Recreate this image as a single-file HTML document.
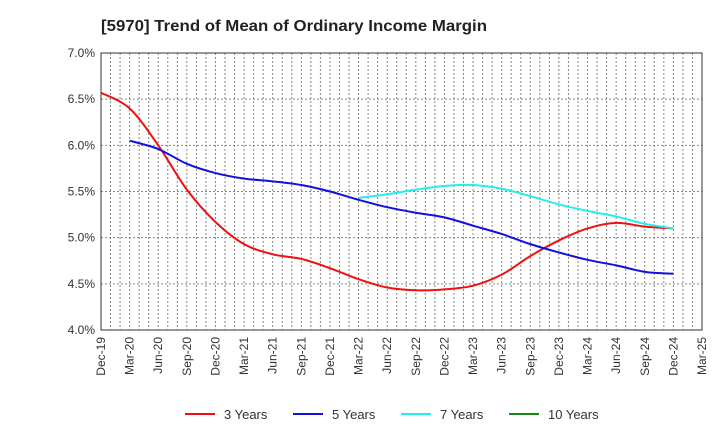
<!DOCTYPE html>
<html><head><meta charset="utf-8"><style>
body{margin:0;background:#fff;font-family:"Liberation Sans",sans-serif;}
</style></head><body>
<svg id="c" width="720" height="440" xmlns="http://www.w3.org/2000/svg" font-family="Liberation Sans, sans-serif">
<text x="101" y="31" text-anchor="start" font-size="16" font-weight="bold" textLength="386" lengthAdjust="spacingAndGlyphs" fill="#222">[5970]  Trend of Mean of Ordinary Income Margin</text>
<g id="grid"></g><g id="axes"></g><g id="series"></g><g id="legend"></g>
</svg>
<script>
const xLabels=["Dec-19","Mar-20","Jun-20","Sep-20","Dec-20","Mar-21","Jun-21","Sep-21","Dec-21","Mar-22","Jun-22","Sep-22","Dec-22","Mar-23","Jun-23","Sep-23","Dec-23","Mar-24","Jun-24","Sep-24","Dec-24","Mar-25"];
const yTicks=[4.0,4.5,5.0,5.5,6.0,6.5,7.0];
const y3=[6.57,6.40,6.00,5.52,5.17,4.93,4.82,4.77,4.67,4.55,4.46,4.43,4.44,4.48,4.60,4.80,4.97,5.10,5.16,5.12,5.10];
const y5=[null,6.05,5.96,5.80,5.70,5.64,5.61,5.57,5.50,5.41,5.33,5.27,5.22,5.13,5.04,4.93,4.84,4.76,4.70,4.63,4.61];
const y7=[null,null,null,null,null,null,null,null,null,5.43,5.47,5.52,5.56,5.57,5.53,5.45,5.36,5.29,5.23,5.15,5.10];
const y10=[];
const L=101,R=702,T=53,B=330,NS="http://www.w3.org/2000/svg";
const X=i=>L+(R-L)*i/(xLabels.length-1);
const Y=v=>B-(B-T)*(v-4)/3;
function el(t,a,p){const e=document.createElementNS(NS,t);for(const k in a)e.setAttribute(k,a[k]);document.getElementById(p).appendChild(e);return e;}
for(let m=1;m<(xLabels.length-1)*3;m++){const x=L+(R-L)*m/((xLabels.length-1)*3);
const g=el('line',{x1:x,x2:x,y1:T,y2:B,stroke:'#888','stroke-dasharray':'2,2','stroke-width':1},'grid');

}
yTicks.forEach(v=>{const g=el('line',{x1:L,x2:R,y1:Y(v),y2:Y(v),stroke:'#888','stroke-dasharray':'2,2','stroke-width':1},'grid');


const t=el('text',{x:L-6,y:Y(v)+4,'text-anchor':'end','font-size':12,fill:'#333'},'axes');t.textContent=v.toFixed(1)+'%';

});
const fr=el('rect',{x:L,y:T,width:R-L,height:B-T,fill:'none',stroke:'#333','stroke-width':1},'axes');


xLabels.forEach((s,i)=>{const t=el('text',{x:0,y:0,'text-anchor':'end','font-size':12,fill:'#333',transform:`translate(${X(i)+4},${B+7}) rotate(-90)`},'axes');t.textContent=s;

});
function path(arr){const p=[];arr.forEach((v,i)=>{if(v!=null)p.push([X(i),Y(v)]);});if(!p.length)return '';
let d=`M${p[0][0]},${p[0][1]}`;for(let i=0;i<p.length-1;i++){const p0=p[i-1]||p[i],p1=p[i],p2=p[i+1],p3=p[i+2]||p2;
d+=` C${p1[0]+(p2[0]-p0[0])/6},${p1[1]+(p2[1]-p0[1])/6} ${p2[0]-(p3[0]-p1[0])/6},${p2[1]-(p3[1]-p1[1])/6} ${p2[0]},${p2[1]}`;}return d;}
const S=[["3 Years",y3,"#ee1111"],["5 Years",y5,"#1111dd"],["7 Years",y7,"#22eeee"],["10 Years",y10,"#118811"]];
S.forEach((s,k)=>{const d=path(s[1]);if(d){const p=el('path',{d:d,fill:'none',stroke:s[2],'stroke-width':2},'series');

}
const lx=185+k*108;const l=el('line',{x1:lx,x2:lx+30,y1:414,y2:414,stroke:s[2],'stroke-width':2},'legend');


const t=el('text',{x:lx+39,y:419,'font-size':13,fill:'#333'},'legend');t.textContent=s[0];

});
</script>
</body></html>
